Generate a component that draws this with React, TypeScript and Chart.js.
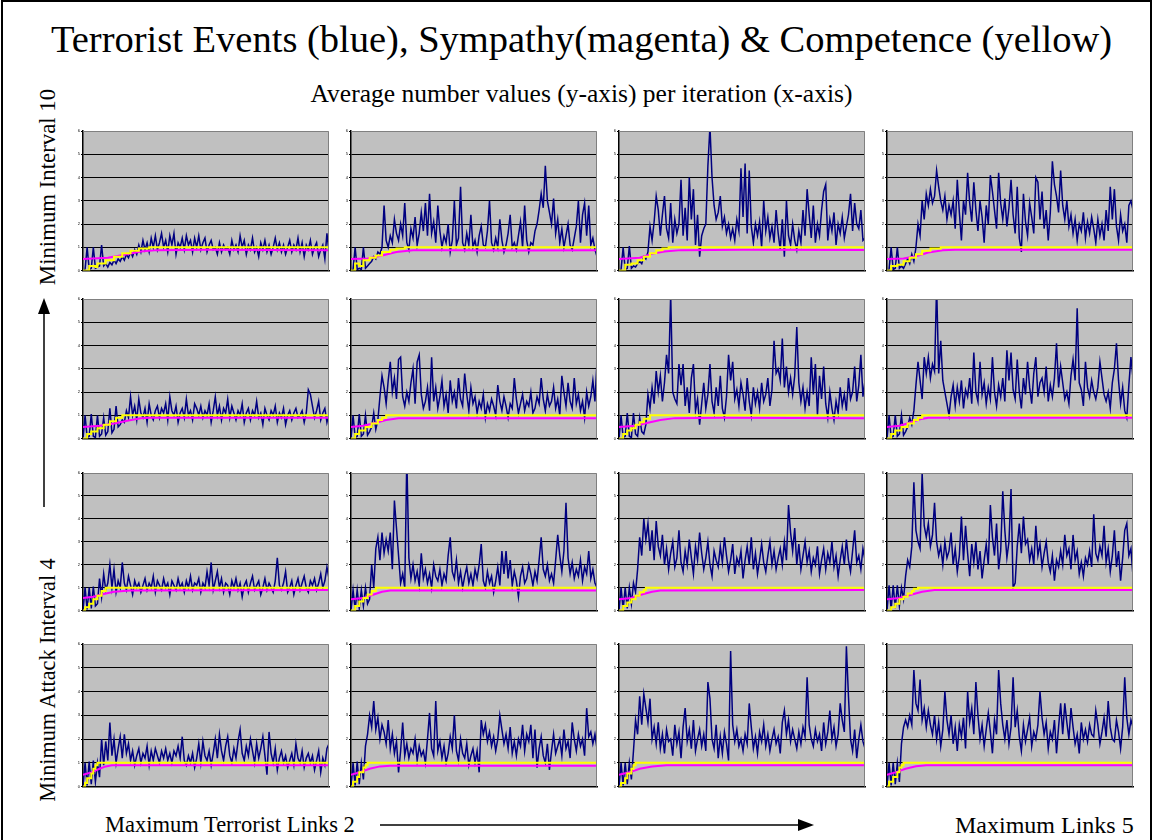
import React, { useEffect, useRef } from "react";
import { Chart, registerables } from "chart.js";

Chart.register(...registerables);

// ---------- DATA ----------
const yTickLabels = ["0", "1", "2", "3", "4", "5", "6"];

// Terrorist events (blue), one value per sampled iteration
const blueR1C1 = [
  0, 0.05, 1.0, 0.05, 0.1, 1.0, 0.1, 0.15, 0.2, 1.1,
  0.2, 0.3, 0.15, 0.35, 0.25, 0.45, 0.3, 0.5, 0.4, 0.6,
  0.45, 0.7, 0.55, 0.8, 0.6, 0.9, 0.7, 1.1, 0.8, 1.3,
  0.9, 1.2, 0.8, 1.4, 1.0, 1.5, 0.9, 1.2, 1.6, 1.0,
  1.3, 0.8, 1.5, 1.1, 1.6, 0.7, 1.2, 1.0, 1.4, 0.9,
  1.5, 1.1, 1.3, 0.8, 1.4, 1.0, 1.5, 0.9, 1.2, 1.4,
  0.8, 1.1, 1.3, 0.9, 1.0, 0.7, 1.2, 0.8, 1.1, 0.9,
  1.0, 0.7, 1.3, 0.9, 1.1, 0.8, 1.5, 1.0, 1.3, 0.7,
  1.1, 0.9, 1.4, 0.8, 1.0, 0.6, 1.2, 0.9, 1.3, 0.8,
  1.1, 0.7, 1.0, 1.4, 0.9, 1.2, 0.8, 1.1, 0.7, 1.0,
  1.3, 0.8, 1.1, 0.9, 1.4, 0.8, 1.2, 0.6, 1.1, 0.9,
  1.3, 0.7, 1.0, 1.2, 0.6, 0.9, 1.1, 0.5, 1.6, 0.8,
];
const blueR1C2 = [
  0, 0.05, 1.0, 0.05, 0.1, 0.05, 1.0, 0.1, 0.2, 0.3,
  0.4, 0.6, 0.5, 0.8, 0.7, 1.0, 2.8, 1.3, 1.0, 1.5,
  1.2, 2.2, 1.6, 1.3, 2.0, 1.5, 2.9, 1.2, 0.9, 1.8,
  1.4, 2.3, 1.1, 1.6, 2.5, 1.7, 2.9, 1.5, 3.3, 1.6,
  2.1, 1.2, 2.8, 1.7, 1.0, 1.5, 1.2, 2.0, 0.8, 1.3,
  3.0, 1.1, 1.4, 3.6, 1.2, 0.9, 1.6, 1.1, 2.4, 1.0,
  1.3, 0.8, 1.5, 1.9, 1.1, 1.0, 1.7, 3.0, 1.2, 0.9,
  1.4, 1.0, 2.2, 1.3, 0.8, 1.1, 1.6, 2.4, 1.0, 1.2,
  0.9, 1.5, 2.1, 1.0, 2.8, 1.3, 0.8, 1.2, 1.1, 1.7,
  2.0, 2.6, 3.3, 2.7, 4.5, 3.0, 2.5, 2.0, 3.1, 1.6,
  2.2, 1.2, 1.8, 1.0, 1.5, 2.0, 1.1, 0.9, 1.4, 1.9,
  3.0, 1.2, 2.4, 2.9, 1.5, 2.8, 1.1, 1.4, 0.9, 0.6,
];
const blueR1C3 = [
  0, 0.05, 1.0, 0.05, 0.1, 1.05, 0.1, 0.2, 0.15, 0.3,
  0.4, 0.3, 0.6, 0.5, 0.8, 1.9, 1.3, 2.1, 3.2, 2.6,
  1.5, 2.4, 3.2, 1.8, 1.4, 2.9, 1.2, 2.2, 1.6, 2.0,
  3.9, 1.5, 2.7, 1.3, 4.0, 2.2, 3.5, 1.1, 2.4, 0.6,
  1.5, 1.8, 2.0, 4.5, 6.2, 4.0, 2.8, 2.2, 2.5, 3.2,
  1.9, 2.3, 1.6, 2.0, 1.4, 1.8, 1.3, 2.2, 1.7, 4.4,
  2.3, 4.6, 1.6, 4.3, 1.9, 1.2, 2.0, 1.5, 2.1, 1.0,
  3.0, 1.7, 2.3, 1.4, 1.9, 1.2, 2.6, 1.6, 0.9, 2.2,
  0.6, 3.0, 1.5, 1.1, 2.0, 1.3, 0.9, 1.7, 1.2, 2.6,
  1.5, 3.5, 2.4, 1.4, 2.8, 1.2, 2.0, 1.5, 2.6, 3.4,
  3.7, 1.3, 2.2, 1.7, 2.5, 1.1, 2.0, 1.6, 2.3, 1.4,
  1.9, 2.4, 3.3, 1.7, 2.9, 2.0, 1.8, 2.6, 1.3, 1.4,
];
const blueR1C4 = [
  0, 0.05, 1.0, 0.05, 0.1, 1.0, 0.1, 0.2, 0.1, 0.3,
  0.5, 0.3, 0.7, 0.4, 1.0, 2.0, 1.5, 3.0, 2.2, 3.3,
  2.8, 3.5, 2.9, 3.2, 4.3, 3.6, 3.0, 2.6, 3.2, 2.2,
  2.8, 2.4, 3.0, 1.8, 3.9, 2.5, 1.3, 3.0, 2.4, 4.2,
  2.9, 2.1, 3.8, 2.6, 1.7, 3.0, 2.3, 1.2, 2.8, 2.0,
  4.1, 3.4, 2.6, 1.8, 4.2, 2.9, 2.2, 3.1, 1.9, 2.7,
  3.9, 2.4, 1.6, 3.6, 1.4, 0.8, 3.3, 2.1, 1.5, 2.9,
  2.3, 1.6, 4.0, 3.8, 2.2, 3.4, 1.8, 2.6, 1.3, 2.5,
  4.7, 3.7, 3.2, 2.5, 4.3, 2.8, 2.2, 3.0, 1.9, 2.4,
  1.6, 2.2, 1.3, 2.0, 1.7, 2.5, 1.4, 2.1, 1.6, 2.3,
  1.8, 1.2, 2.2, 1.5, 2.0, 1.3, 2.6, 1.7, 3.6, 2.2,
  3.5, 1.9, 1.3, 2.4, 1.7, 2.0, 1.2, 2.8, 3.0, 2.6,
];
const blueR2C1 = [
  0, 1.0, 0.05, 0.1, 1.05, 0.1, 0.05, 1.0, 0.1, 0.2,
  0.9, 0.15, 0.3, 1.3, 0.25, 0.4, 1.4, 0.5, 0.6, 0.8,
  0.7, 1.2, 0.9, 1.8, 1.0, 1.4, 0.8, 1.7, 1.1, 0.9,
  1.3, 0.7, 1.5, 1.0, 0.8, 1.2, 1.4, 0.9, 1.3, 1.1,
  1.5, 0.8, 1.8, 1.2, 1.0, 1.4, 0.7, 1.1, 1.3, 0.9,
  1.7, 1.0, 1.2, 0.8, 1.5, 1.3, 1.0, 1.4, 0.9, 1.2,
  1.0, 1.5, 0.7, 1.2, 1.8, 1.0, 1.4, 0.8, 1.3, 1.1,
  1.7, 0.9, 1.4, 1.1, 0.8, 1.2, 1.0, 1.5, 0.7, 1.1,
  1.3, 0.8, 1.2, 1.0, 1.6, 0.9, 1.1, 0.6, 1.3, 1.0,
  0.8, 1.2, 1.0, 1.4, 0.7, 1.1, 0.9, 1.3, 0.6, 1.0,
  1.2, 0.8, 1.1, 1.3, 0.9, 1.0, 1.2, 0.7, 1.1, 2.1,
  1.9, 1.4, 0.9, 1.2, 1.6, 0.8, 1.1, 1.3, 0.7, 1.1,
];
const blueR2C2 = [
  0, 1.0, 0.05, 0.1, 1.05, 0.1, 0.2, 1.0, 0.15, 0.3,
  0.5, 1.1, 0.4, 0.8, 1.8, 2.7, 2.2, 1.5, 2.5, 3.3,
  2.0, 2.6, 1.7, 3.4, 3.5, 1.8, 1.4, 2.0, 1.6, 2.4,
  3.0, 1.5, 3.3, 3.6, 1.9, 1.3, 1.6, 2.2, 1.2, 3.5,
  1.6, 2.2, 1.3, 1.8, 2.5, 1.4, 1.9, 1.1, 2.5, 1.6,
  2.0, 1.3, 2.6, 1.7, 1.4, 2.8, 1.9, 1.2, 2.2, 1.5,
  1.8, 1.1, 1.6, 1.3, 1.9, 0.9, 1.5, 1.2, 1.7, 1.4,
  1.0, 2.3, 1.6, 1.2, 1.8, 1.4, 0.9, 1.5, 1.3, 2.6,
  1.7, 1.1, 1.5, 1.9, 1.2, 1.6, 1.4, 2.0, 1.1, 1.3,
  1.8, 1.5, 2.6, 1.7, 1.2, 1.9, 1.4, 1.6, 2.2, 1.3,
  1.7, 1.0, 2.7, 2.0, 1.4, 2.4, 1.6, 1.3, 2.6, 1.5,
  1.9, 1.2, 1.6, 0.9, 2.0, 1.4, 1.8, 2.5, 1.6, 3.3,
];
const blueR2C3 = [
  0, 1.0, 0.05, 0.1, 1.1, 0.1, 0.05, 1.1, 0.2, 0.1,
  0.9, 0.3, 0.2, 0.6, 1.9, 1.3, 2.2, 1.5, 2.9, 2.0,
  2.7, 1.6, 2.4, 3.6, 2.8, 6.2, 2.0, 1.7, 1.5, 3.2,
  2.3, 3.2, 1.4, 2.2, 1.1, 2.6, 3.2, 1.2, 1.7, 0.6,
  1.5, 2.4, 1.3, 1.9, 3.2, 1.6, 1.1, 2.2, 1.4, 2.7,
  1.3, 0.9, 1.8, 3.6, 2.5, 3.3, 1.7, 2.1, 1.4, 2.4,
  1.9, 1.2, 2.6, 1.6, 1.0, 2.2, 1.5, 2.0, 1.3, 2.4,
  1.6, 1.9, 2.6, 1.4, 2.1, 4.2, 2.8, 3.0, 2.5, 4.3,
  2.2, 3.1, 2.0, 2.6, 1.9, 2.7, 4.8, 2.4, 1.6, 2.2,
  1.3, 2.0, 1.4, 3.5, 1.9, 3.2, 1.0, 2.7, 1.7, 3.1,
  1.5, 0.9, 2.0, 1.3, 0.8, 1.6, 1.1, 2.2, 1.4, 1.9,
  1.2, 2.6, 1.7, 2.0, 3.1, 1.6, 2.3, 3.6, 1.8, 2.5,
];
const blueR2C4 = [
  0, 1.0, 0.05, 0.1, 1.0, 0.1, 0.2, 1.0, 0.15, 0.3,
  0.5, 0.9, 0.6, 1.2, 2.3, 3.3, 2.5, 1.7, 3.5, 2.8,
  3.5, 2.6, 3.2, 2.9, 6.6, 2.8, 4.2, 2.5, 2.0, 1.5,
  1.0, 1.8, 2.3, 1.4, 2.2, 1.6, 2.5, 1.3, 2.1, 1.8,
  2.6, 1.5, 3.7, 2.0, 1.6, 3.3, 1.9, 2.4, 1.5, 2.2,
  1.7, 3.5, 2.0, 1.4, 2.3, 1.8, 2.6, 1.6, 3.8, 2.5,
  3.7, 2.1, 1.7, 3.4, 2.0, 1.3, 2.6, 1.9, 3.3, 2.2,
  1.5, 2.8, 3.5, 1.8, 2.4, 2.6, 2.0, 3.1, 1.6, 2.3,
  1.8, 2.6, 4.1, 2.2, 3.1, 2.4, 1.7, 2.0, 1.5, 2.7,
  3.4, 2.5, 5.6, 2.4, 2.1, 1.4, 3.3, 2.2, 1.8, 2.5,
  2.0, 1.7, 2.2, 3.3, 2.6, 1.9, 1.6, 2.0, 1.3, 2.4,
  3.0, 4.1, 2.5, 1.5, 2.2, 1.2, 0.9, 2.3, 3.5, 2.6,
];
const blueR3C1 = [
  0, 1.0, 0.05, 1.0, 0.1, 1.05, 0.2, 0.3, 1.4, 0.6,
  1.6, 0.9, 1.2, 2.0, 1.0, 1.8, 0.8, 1.3, 1.0, 2.1,
  1.2, 0.9, 1.5, 1.1, 0.7, 1.3, 1.0, 1.2, 0.8, 1.1,
  1.4, 0.9, 1.2, 1.0, 1.5, 0.8, 1.3, 1.1, 0.9, 1.4,
  1.0, 1.2, 0.7, 1.3, 1.1, 0.9, 1.4, 1.0, 1.2, 0.8,
  1.3, 1.0, 1.5, 0.9, 1.2, 1.1, 1.4, 0.8, 1.2, 1.0,
  1.7, 1.1, 2.1, 0.9, 1.3, 1.7, 1.0, 1.4, 0.8, 1.2,
  1.1, 0.7, 1.3, 1.0, 1.4, 0.9, 1.2, 0.6, 1.1, 1.3,
  0.8, 1.2, 1.5, 0.9, 1.1, 1.3, 0.7, 1.0, 1.4, 0.9,
  1.2, 1.0, 0.8, 1.3, 2.3, 1.1, 0.9, 1.2, 1.7, 0.8,
  1.0, 1.3, 0.7, 1.1, 1.4, 0.9, 1.2, 1.5, 1.0, 0.8,
  1.3, 1.1, 1.4, 0.9, 1.2, 1.6, 1.0, 1.3, 1.9, 1.4,
];
const blueR3C2 = [
  0, 0.9, 0.05, 0.9, 0.1, 0.9, 0.2, 1.0, 0.3, 0.5,
  2.0, 1.0, 2.7, 3.2, 2.2, 3.4, 2.5, 3.1, 2.6, 3.4,
  1.8, 4.8, 3.6, 2.4, 1.2, 1.6, 1.0, 6.7, 2.3, 1.4,
  2.0, 1.3, 1.7, 1.1, 2.5, 1.4, 1.8, 1.2, 1.6, 1.0,
  2.0, 1.5, 1.3, 1.8, 1.1, 1.6, 1.3, 2.4, 3.2, 1.7,
  1.4, 2.2, 1.2, 1.7, 1.0, 1.5, 1.9, 1.2, 1.6, 1.1,
  1.8, 1.4, 2.0, 2.9, 1.3, 1.0, 1.7, 1.2, 1.5, 0.8,
  1.3, 1.9, 1.1, 2.6, 1.6, 2.6, 1.4, 2.2, 1.1, 1.7,
  1.3, 0.6, 1.5, 1.9, 1.2, 1.4, 2.0, 1.6, 1.1, 1.7,
  1.3, 2.2, 3.2, 1.8, 1.5, 2.0, 1.3, 1.6, 1.2, 2.2,
  3.3, 2.4, 1.7, 2.6, 4.7, 2.3, 1.6, 2.1, 1.4, 1.8,
  1.5, 2.2, 1.3, 1.9, 1.6, 2.6, 1.4, 1.8, 1.2, 1.0,
];
const blueR3C3 = [
  0, 1.0, 0.05, 1.0, 0.1, 1.0, 0.3, 1.2, 0.8, 1.8,
  3.2, 2.4, 4.0, 3.1, 3.8, 2.6, 3.5, 2.2, 3.9, 2.8,
  2.4, 3.3, 2.0, 2.7, 1.8, 2.5, 3.0, 1.9, 2.3, 3.5,
  2.1, 1.7, 2.6, 2.0, 3.1, 2.3, 1.6, 2.8, 2.2, 3.4,
  2.5, 1.8, 2.3, 3.0, 2.0, 1.5, 2.6, 2.2, 1.9, 2.8,
  2.1, 3.2, 2.4, 1.7, 2.2, 2.9, 1.6, 2.3, 2.0, 2.6,
  1.4, 2.2, 2.8, 2.0, 3.2, 1.8, 2.5, 1.6, 2.2, 2.9,
  2.1, 1.7, 2.4, 3.0, 2.0, 2.6, 1.8, 2.3, 2.7, 2.0,
  3.0, 2.2, 4.6, 3.4, 2.6, 3.6, 2.0, 2.9, 1.8, 2.4,
  3.0, 2.1, 2.6, 1.7, 2.3, 2.0, 2.8, 1.6, 2.2, 2.7,
  1.8, 2.5, 2.1, 3.0, 1.9, 2.4, 1.5, 2.2, 2.8, 2.0,
  3.1, 2.2, 1.7, 2.6, 3.5, 2.1, 2.4, 1.8, 2.7, 2.2,
];
const blueR3C4 = [
  0, 1.1, 0.05, 1.1, 0.1, 1.1, 0.2, 1.0, 0.5, 1.5,
  2.2, 1.9, 2.8, 5.6, 3.5, 3.0, 2.7, 6.0, 3.7, 3.2,
  3.8, 2.8, 3.3, 4.7, 3.0, 2.4, 2.8, 2.0, 3.0, 2.3,
  2.6, 3.4, 2.0, 2.7, 1.7, 2.4, 4.1, 2.2, 3.7, 2.5,
  1.5, 2.9, 2.1, 3.0, 1.8, 2.6, 1.4, 2.2, 2.9, 2.0,
  4.6, 3.2, 2.4, 3.8, 1.8, 2.6, 5.2, 3.5, 2.3, 3.0,
  5.3, 1.0, 1.2, 2.8, 3.8, 2.5, 4.1, 2.9, 3.1, 2.2,
  2.7, 2.0, 3.7, 2.4, 2.9, 1.9, 2.5, 3.0, 2.1, 1.7,
  2.4, 1.3, 2.2, 1.9, 2.6, 2.0, 3.3, 2.4, 2.7, 1.8,
  3.3, 2.2, 2.6, 1.6, 2.1, 1.5, 2.3, 2.0, 2.6, 1.9,
  4.2, 2.5, 2.2, 2.8, 2.4, 3.7, 2.1, 2.7, 1.7, 2.4,
  3.5, 1.9, 2.6, 1.3, 2.3, 3.5, 3.8, 2.4, 2.7, 1.5,
];
const blueR4C1 = [
  0, 1.0, 0.05, 1.05, 0.1, 1.1, 0.2, 1.0, 0.4, 2.0,
  0.9, 1.9, 1.1, 2.7, 1.3, 2.0, 1.0, 1.6, 2.1, 1.2,
  2.2, 1.4, 1.8, 1.1, 1.5, 0.9, 1.3, 1.6, 1.0, 1.4,
  1.2, 1.7, 0.9, 1.5, 1.1, 1.6, 1.3, 1.0, 1.5, 1.2,
  1.6, 1.1, 1.4, 1.0, 1.5, 1.3, 1.7, 1.2, 2.1, 1.1,
  0.9, 1.3, 1.0, 1.4, 0.8, 1.2, 1.8, 1.0, 1.9, 1.3,
  1.1, 1.5, 0.9, 1.4, 2.0, 1.2, 2.2, 1.5, 1.1, 1.7,
  2.1, 1.3, 1.0, 1.6, 1.2, 1.9, 2.4, 1.4, 1.1, 1.7,
  1.3, 2.0, 1.5, 1.0, 1.8, 1.2, 1.6, 2.1, 1.3, 0.5,
  2.3, 1.4, 1.0, 1.6, 0.7, 1.2, 1.5, 1.0, 1.3, 0.8,
  1.1, 1.4, 0.9, 1.8, 1.2, 1.0, 1.5, 0.8, 1.2, 1.4,
  1.0, 1.3, 0.7, 1.1, 1.5, 0.6, 1.2, 0.9, 1.6, 1.8,
];
const blueR4C2 = [
  0, 1.0, 0.05, 1.05, 0.1, 1.0, 0.3, 1.7, 2.2, 3.0,
  2.5, 3.6, 2.4, 2.9, 2.0, 2.6, 2.3, 1.8, 2.8, 1.6,
  2.2, 1.4, 1.9, 0.6, 1.5, 2.7, 1.3, 1.8, 1.2, 1.6,
  1.4, 2.0, 1.1, 1.7, 1.3, 1.5, 1.0, 2.0, 3.1, 1.6,
  1.3, 3.6, 1.5, 1.9, 1.2, 1.7, 1.0, 1.4, 2.1, 1.6,
  3.0, 1.5, 1.1, 2.0, 1.4, 1.2, 1.8, 0.9, 1.3, 1.6,
  1.0, 1.5, 0.6, 2.8, 2.2, 2.6, 1.9, 2.3, 1.7, 2.1,
  1.5, 2.0, 3.0, 2.4, 1.8, 2.2, 1.6, 2.5, 1.4, 1.9,
  1.3, 2.0, 1.7, 2.6, 1.5, 2.2, 1.9, 2.6, 1.2, 2.4,
  0.8, 1.6, 2.1, 1.3, 1.0, 1.8, 0.7, 1.5, 2.2, 1.4,
  1.7, 2.0, 1.3, 2.4, 1.6, 1.9, 1.2, 2.7, 2.0, 1.5,
  2.2, 1.7, 2.0, 1.3, 3.3, 2.1, 2.3, 1.8, 2.2, 1.6,
];
const blueR4C3 = [
  0, 1.0, 0.05, 1.0, 0.1, 1.0, 0.3, 1.5, 2.8, 2.2,
  3.8, 2.6, 3.9, 3.3, 2.7, 3.7, 2.0, 2.5, 1.8, 2.7,
  1.6, 2.2, 1.4, 2.4, 1.9, 2.0, 1.3, 2.6, 1.8, 2.3,
  1.2, 2.5, 3.3, 1.9, 2.4, 1.6, 2.8, 1.5, 2.0, 2.4,
  1.7, 2.2, 1.5, 4.4, 3.7, 2.0, 1.6, 2.6, 1.2, 2.1,
  1.4, 2.3, 1.8, 1.1, 5.7, 2.6, 1.9, 2.4, 1.7, 2.0,
  1.5, 2.2, 1.8, 3.5, 2.5, 1.6, 2.1, 1.4, 2.3, 1.9,
  2.6, 1.7, 2.2, 1.5, 2.0, 2.4, 1.8, 2.1, 1.4, 2.7,
  3.2, 2.2, 2.8, 1.9, 2.4, 2.0, 1.6, 2.3, 1.8, 2.5,
  2.1, 4.6, 2.6, 2.0, 1.7, 2.4, 1.9, 2.2, 1.5, 2.7,
  1.8, 2.3, 3.2, 2.0, 2.5, 1.7, 2.2, 3.5, 2.8, 2.3,
  5.9, 3.8, 2.0, 1.5, 2.4, 1.2, 2.0, 2.6, 1.9, 1.6,
];
const blueR4C4 = [
  0, 1.0, 0.05, 1.0, 0.1, 1.0, 0.2, 1.8, 2.5, 2.8,
  2.5, 3.0, 2.6, 4.9, 3.5, 3.2, 4.5, 2.8, 3.3, 2.5,
  3.2, 2.6, 2.2, 3.0, 2.0, 2.7, 1.7, 2.4, 4.0, 2.8,
  2.2, 3.0, 1.8, 2.5, 1.5, 2.6, 2.1, 2.9, 1.6, 4.0,
  2.7, 3.3, 2.2, 4.4, 3.0, 2.0, 2.6, 1.7, 2.4, 3.1,
  2.3, 1.4, 2.8, 2.2, 4.9, 3.5, 2.6, 2.0, 2.8, 1.8,
  2.5, 4.6, 2.5, 3.2, 2.1, 1.5, 2.6, 1.9, 2.4, 2.9,
  1.7, 2.3, 2.0, 2.6, 4.0, 2.9, 2.2, 2.7, 1.6, 2.3,
  2.0, 2.8, 1.4, 2.5, 3.5, 2.2, 3.5, 2.7, 2.0, 3.3,
  2.5, 1.8, 2.2, 1.4, 2.7, 2.0, 2.4, 1.9, 2.6, 2.2,
  2.1, 3.2, 2.6, 1.8, 2.3, 2.9, 2.1, 3.6, 2.5, 2.0,
  1.9, 2.8, 2.3, 1.6, 2.5, 4.6, 2.9, 2.2, 2.8, 2.5,
];

// Sympathy (magenta): [iteration, value]
const magentaR1C1 = [[0, 0.5], [12, 0.55], [20, 0.68], [28, 0.82], [36, 0.88], [60, 0.9], [90, 0.89], [119, 0.88]];
const magentaR1C2 = [[0, 0.5], [8, 0.52], [15, 0.65], [22, 0.8], [30, 0.87], [50, 0.88], [80, 0.86], [119, 0.88]];
const magentaR1C3 = [[0, 0.5], [10, 0.55], [16, 0.72], [22, 0.82], [30, 0.88], [60, 0.9], [119, 0.89]];
const magentaR1C4 = [[0, 0.5], [8, 0.52], [14, 0.62], [20, 0.78], [27, 0.87], [33, 0.9], [119, 0.9]];
const magentaR2C1 = [[0, 0.5], [8, 0.55], [15, 0.65], [22, 0.78], [28, 0.87], [32, 0.9], [119, 0.9]];
const magentaR2C2 = [[0, 0.5], [6, 0.55], [12, 0.68], [17, 0.8], [23, 0.87], [40, 0.88], [119, 0.88]];
const magentaR2C3 = [[0, 0.5], [8, 0.55], [14, 0.68], [20, 0.8], [27, 0.88], [50, 0.9], [119, 0.88]];
const magentaR2C4 = [[0, 0.5], [6, 0.55], [11, 0.68], [16, 0.83], [20, 0.9], [119, 0.9]];
const magentaR3C1 = [[0, 0.55], [5, 0.6], [10, 0.72], [15, 0.82], [23, 0.88], [119, 0.9]];
const magentaR3C2 = [[0, 0.5], [6, 0.55], [11, 0.7], [15, 0.82], [19, 0.88], [119, 0.88]];
const magentaR3C3 = [[0, 0.5], [6, 0.55], [11, 0.7], [16, 0.82], [20, 0.88], [119, 0.9]];
const magentaR3C4 = [[0, 0.5], [6, 0.55], [12, 0.7], [17, 0.82], [23, 0.9], [119, 0.9]];
const magentaR4C1 = [[0, 0.5], [4, 0.6], [8, 0.75], [11, 0.85], [14, 0.9], [119, 0.9]];
const magentaR4C2 = [[0, 0.5], [4, 0.6], [9, 0.75], [14, 0.85], [19, 0.88], [119, 0.88]];
const magentaR4C3 = [[0, 0.5], [5, 0.6], [10, 0.75], [16, 0.85], [23, 0.9], [119, 0.9]];
const magentaR4C4 = [[0, 0.5], [4, 0.6], [9, 0.75], [14, 0.86], [19, 0.9], [119, 0.9]];

// Competence (yellow): [iteration, value]
const yellowR1C1 = [[0, 0], [3, 0.2], [6, 0.15], [7, 0.3], [11, 0.45], [15, 0.6], [19, 0.75], [23, 0.85], [27, 0.95], [32, 1], [119, 1]];
const yellowR1C2 = [[0, 0], [2, 0.3], [4, 0.2], [6, 0.45], [9, 0.55], [12, 0.65], [15, 0.8], [19, 0.9], [22, 0.95], [26, 1], [119, 1]];
const yellowR1C3 = [[0, 0], [3, 0.25], [6, 0.3], [9, 0.45], [12, 0.6], [15, 0.75], [18, 0.88], [21, 0.95], [24, 1], [119, 1]];
const yellowR1C4 = [[0, 0], [2, 0.2], [5, 0.25], [8, 0.4], [11, 0.55], [14, 0.7], [17, 0.85], [21, 0.95], [26, 1], [119, 1]];
const yellowR2C1 = [[0, 0], [2, 0.2], [4, 0.3], [7, 0.45], [10, 0.6], [13, 0.75], [16, 0.9], [19, 1], [119, 1]];
const yellowR2C2 = [[0, 0], [2, 0.2], [4, 0.35], [7, 0.5], [10, 0.65], [13, 0.8], [15, 0.9], [17, 1], [119, 1]];
const yellowR2C3 = [[0, 0], [2, 0.2], [4, 0.35], [6, 0.45], [8, 0.6], [10, 0.7], [12, 0.85], [15, 1], [119, 1]];
const yellowR2C4 = [[0, 0], [2, 0.2], [4, 0.35], [7, 0.5], [10, 0.65], [13, 0.8], [15, 0.9], [17, 1], [119, 1]];
const yellowR3C1 = [[0, 0], [1, 0.15], [3, 0.3], [5, 0.5], [7, 0.65], [9, 0.85], [11, 1], [119, 1]];
const yellowR3C2 = [[0, 0], [2, 0.2], [4, 0.4], [6, 0.55], [8, 0.7], [10, 0.85], [12, 1], [119, 1]];
const yellowR3C3 = [[0, 0], [2, 0.2], [4, 0.35], [6, 0.5], [8, 0.65], [10, 0.8], [12, 0.9], [13, 1], [119, 1]];
const yellowR3C4 = [[0, 0], [2, 0.15], [4, 0.3], [6, 0.5], [8, 0.6], [10, 0.75], [12, 0.85], [13, 0.95], [15, 1], [119, 1]];
const yellowR4C1 = [[0, 0], [1, 0.15], [2, 0.35], [4, 0.55], [5, 0.75], [6, 0.9], [7, 1], [119, 1]];
const yellowR4C2 = [[0, 0], [1, 0.2], [3, 0.4], [4, 0.6], [6, 0.8], [7, 0.9], [8, 1], [119, 1]];
const yellowR4C3 = [[0, 0], [1, 0.15], [3, 0.35], [4, 0.55], [6, 0.75], [7, 0.9], [8, 1], [119, 1]];
const yellowR4C4 = [[0, 0], [1, 0.2], [3, 0.4], [5, 0.6], [6, 0.8], [7, 0.9], [8, 1], [119, 1]];

const panelRows = [
  [
    [blueR1C1, magentaR1C1, yellowR1C1],
    [blueR1C2, magentaR1C2, yellowR1C2],
    [blueR1C3, magentaR1C3, yellowR1C3],
    [blueR1C4, magentaR1C4, yellowR1C4],
  ],
  [
    [blueR2C1, magentaR2C1, yellowR2C1],
    [blueR2C2, magentaR2C2, yellowR2C2],
    [blueR2C3, magentaR2C3, yellowR2C3],
    [blueR2C4, magentaR2C4, yellowR2C4],
  ],
  [
    [blueR3C1, magentaR3C1, yellowR3C1],
    [blueR3C2, magentaR3C2, yellowR3C2],
    [blueR3C3, magentaR3C3, yellowR3C3],
    [blueR3C4, magentaR3C4, yellowR3C4],
  ],
  [
    [blueR4C1, magentaR4C1, yellowR4C1],
    [blueR4C2, magentaR4C2, yellowR4C2],
    [blueR4C3, magentaR4C3, yellowR4C3],
    [blueR4C4, magentaR4C4, yellowR4C4],
  ],
];

// ---------- LAYOUT (plot-area rectangles) ----------
const colLefts = [83, 351, 619, 887];
const plotWidth = 246;
const rowTops = [131, 299, 473, 644];
const rowHeights = [142, 142, 140, 145];
const AXIS_W = 14;
const PAD_T = 4;
const PAD_R = 1;
const PAD_B = 1;

const plotBg = {
  id: "plotBg",
  beforeDraw(chart: any) {
    const { ctx, chartArea: a } = chart;
    ctx.save();
    ctx.fillStyle = "#C0C0C0";
    ctx.fillRect(a.left, a.top, a.right - a.left, a.bottom - a.top);
    ctx.restore();
  },
  afterDraw(chart: any) {
    const { ctx, chartArea: a } = chart;
    ctx.save();
    ctx.strokeStyle = "#808080";
    ctx.lineWidth = 1;
    ctx.beginPath();
    ctx.moveTo(a.left, a.top + 0.5);
    ctx.lineTo(a.right - 0.5, a.top + 0.5);
    ctx.lineTo(a.right - 0.5, a.bottom);
    ctx.stroke();
    ctx.restore();
  },
};

function Panel({ blue, magenta, yellow, left, top, width, height }: any) {
  const ref = useRef<HTMLCanvasElement | null>(null);
  useEffect(() => {
    if (!ref.current) return;
    const chart = new Chart(ref.current, {
      type: "line",
      data: {
        datasets: [
          {
            data: blue.map((v: number, i: number) => ({ x: i, y: v })),
            borderColor: "#000080",
            borderWidth: 1.5,
            pointRadius: 0,
            tension: 0,
            order: 3,
          },
          {
            data: magenta.map((p: number[]) => ({ x: p[0], y: p[1] })),
            borderColor: "#FF00FF",
            borderWidth: 2,
            pointRadius: 0,
            tension: 0,
            order: 2,
          },
          {
            data: yellow.map((p: number[]) => ({ x: p[0], y: p[1] })),
            borderColor: "#FFFF00",
            borderWidth: 2,
            pointRadius: 0,
            stepped: true,
            order: 1,
          },
        ],
      },
      options: {
        animation: false,
        responsive: false,
        events: [],
        layout: { padding: { top: PAD_T, right: PAD_R, bottom: PAD_B, left: 0 } },
        plugins: { legend: { display: false }, tooltip: { enabled: false } },
        scales: {
          x: {
            type: "linear",
            min: 0,
            max: blue.length - 1,
            ticks: { display: false },
            grid: { display: false, drawTicks: false },
            border: { display: true, color: "#000", width: 1.5 },
            afterFit: (s: any) => {
              s.height = 0;
            },
          },
          y: {
            min: 0,
            max: 6,
            ticks: {
              stepSize: 1,
              color: "#000",
              font: { size: 4, family: "Liberation Sans" },
              padding: 1,
              callback: (v: any) => yTickLabels[Number(v)] ?? "",
            },
            grid: {
              color: (c: any) => (c.tick && c.tick.value > 0 && c.tick.value < 6 ? "#000" : "rgba(0,0,0,0)"),
              tickColor: "#000",
              tickLength: 2,
              lineWidth: 1,
            },
            border: { display: true, color: "#000", width: 1.5 },
            afterFit: (s: any) => {
              s.width = AXIS_W;
            },
          },
        },
      } as any,
      plugins: [plotBg],
    });
    return () => chart.destroy();
  }, []);
  return (
    <canvas
      ref={ref}
      width={width + AXIS_W + PAD_R}
      height={height + PAD_T + PAD_B}
      style={{
        position: "absolute",
        left: left - AXIS_W,
        top: top - PAD_T,
        width: width + AXIS_W + PAD_R,
        height: height + PAD_T + PAD_B,
      }}
    />
  );
}

const serif = "'Liberation Serif', 'Times New Roman', serif";

export default function App() {
  return (
    <div
      style={{
        position: "absolute",
        left: 0,
        top: 0,
        width: 1153,
        height: 840,
        background: "#fff",
        overflow: "hidden",
        fontFamily: serif,
      }}
    >
      <div
        style={{
          position: "absolute",
          left: 1,
          top: 0,
          width: 1147,
          height: 860,
          border: "2px solid #000",
        }}
      />
      <div
        style={{
          position: "absolute",
          left: 0,
          width: 1163,
          top: 17,
          textAlign: "center",
          fontSize: 38.5,
          lineHeight: "44px",
          whiteSpace: "nowrap",
        }}
      >
        Terrorist Events (blue), Sympathy(magenta) &amp; Competence (yellow)
      </div>
      <div
        style={{
          position: "absolute",
          left: 0,
          width: 1163,
          top: 79,
          textAlign: "center",
          fontSize: 25.5,
          lineHeight: "30px",
          whiteSpace: "nowrap",
        }}
      >
        Average number values (y-axis) per iteration (x-axis)
      </div>
      <div
        style={{
          position: "absolute",
          left: 48,
          top: 187,
          transform: "translate(-50%, -50%) rotate(-90deg)",
          fontSize: 22.8,
          lineHeight: "26px",
          whiteSpace: "nowrap",
        }}
      >
        Minimum Interval 10
      </div>
      <div
        style={{
          position: "absolute",
          left: 48,
          top: 680,
          transform: "translate(-50%, -50%) rotate(-90deg)",
          fontSize: 22.2,
          lineHeight: "26px",
          whiteSpace: "nowrap",
        }}
      >
        Minimum Attack Interval 4
      </div>
      <svg
        style={{ position: "absolute", left: 0, top: 0 }}
        width={1153}
        height={840}
      >
        <line x1={44} y1={507} x2={44} y2={312} stroke="#000" strokeWidth={1.5} />
        <polygon points="44,298 38,314 50,314" fill="#000" />
        <line x1={380} y1={825} x2={800} y2={825} stroke="#000" strokeWidth={1.5} />
        <polygon points="814,825 798,819 798,831" fill="#000" />
      </svg>
      <div
        style={{
          position: "absolute",
          left: 105,
          top: 811,
          fontSize: 22.5,
          lineHeight: "28px",
          whiteSpace: "nowrap",
        }}
      >
        Maximum Terrorist Links 2
      </div>
      <div
        style={{
          position: "absolute",
          left: 955,
          top: 811,
          fontSize: 24,
          lineHeight: "28px",
          whiteSpace: "nowrap",
        }}
      >
        Maximum Links 5
      </div>
      {panelRows.map((row, r) =>
        row.map((p, c) => (
          <Panel
            key={`${r}-${c}`}
            blue={p[0]}
            magenta={p[1]}
            yellow={p[2]}
            left={colLefts[c]}
            top={rowTops[r]}
            width={plotWidth}
            height={rowHeights[r]}
          />
        ))
      )}
    </div>
  );
}
